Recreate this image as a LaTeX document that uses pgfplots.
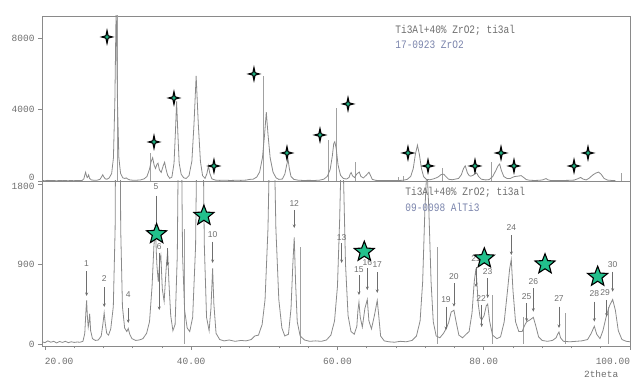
\documentclass[border=0pt]{standalone}
\usepackage{pgfplots}
\pgfplotsset{compat=1.18}
\usepackage{pgfplotstable}
\usetikzlibrary{arrows.meta}
\usepackage{fontspec}
\setmainfont{Liberation Sans}
\setmonofont{Liberation Mono}
\definecolor{ln}{HTML}{8A8A8A}
\definecolor{tx}{HTML}{6E6E6E}
\definecolor{hdrblue}{HTML}{7A84AC}
\definecolor{sg}{HTML}{22C08C}

\pgfdeclareplotmark{gstar}{%
\pgfpathmoveto{\pgfqpointpolar{90}{10.5pt}}%
\pgfpathlineto{\pgfqpointpolar{126}{4.5pt}}%
\pgfpathlineto{\pgfqpointpolar{162}{10.5pt}}%
\pgfpathlineto{\pgfqpointpolar{198}{4.5pt}}%
\pgfpathlineto{\pgfqpointpolar{234}{10.5pt}}%
\pgfpathlineto{\pgfqpointpolar{270}{4.5pt}}%
\pgfpathlineto{\pgfqpointpolar{306}{10.5pt}}%
\pgfpathlineto{\pgfqpointpolar{342}{4.5pt}}%
\pgfpathlineto{\pgfqpointpolar{18}{10.5pt}}%
\pgfpathlineto{\pgfqpointpolar{54}{4.5pt}}%
\pgfpathclose
\pgfusepathqfillstroke}
\pgfdeclareplotmark{spark}{%
\pgfpathmoveto{\pgfqpoint{0pt}{9pt}}%
\pgfpathlineto{\pgfqpoint{1.6pt}{1.6pt}}%
\pgfpathlineto{\pgfqpoint{7.5pt}{0pt}}%
\pgfpathlineto{\pgfqpoint{1.6pt}{-1.6pt}}%
\pgfpathlineto{\pgfqpoint{0pt}{-9pt}}%
\pgfpathlineto{\pgfqpoint{-1.6pt}{-1.6pt}}%
\pgfpathlineto{\pgfqpoint{-7.5pt}{0pt}}%
\pgfpathlineto{\pgfqpoint{-1.6pt}{1.6pt}}%
\pgfpathclose
\pgfusepathqfill}
\pgfdeclareplotmark{sparkc}{%
\pgfpathmoveto{\pgfqpoint{0pt}{2.6pt}}%
\pgfpathlineto{\pgfqpoint{0.7pt}{0.7pt}}%
\pgfpathlineto{\pgfqpoint{2.6pt}{0pt}}%
\pgfpathlineto{\pgfqpoint{0.7pt}{-0.7pt}}%
\pgfpathlineto{\pgfqpoint{0pt}{-2.6pt}}%
\pgfpathlineto{\pgfqpoint{-0.7pt}{-0.7pt}}%
\pgfpathlineto{\pgfqpoint{-2.6pt}{0pt}}%
\pgfpathlineto{\pgfqpoint{-0.7pt}{0.7pt}}%
\pgfpathclose
\pgfusepathqfill}

\pgfplotstableread{
x y
19.6 25
20.0 15
20.4 35
20.8 20
21.2 30
21.6 12
22.0 28
22.4 18
22.8 30
23.2 15
23.6 25
24.0 18
24.4 22
24.8 20
25.2 30
25.45 120
25.6 360
25.70 490
25.8 320
25.92 190
26.03 250
26.12 340
26.25 150
26.5 60
26.9 40
27.3 45
27.7 90
27.92 220
28.1 350
28.25 230
28.45 120
28.7 100
29.0 170
29.35 420
29.6 1300
29.8 4500
29.98 9800
30.16 4500
30.36 1300
30.6 420
30.9 180
31.2 140
31.39 175
31.6 110
31.9 60
32.4 40
32.9 45
33.4 60
33.9 120
34.3 250
34.65 650
34.9 1100
35.1 1300
35.3 900
35.5 700
35.72 950
35.85 1000
36.05 620
36.3 480
36.58 850
36.78 1050
36.95 700
37.2 320
37.5 150
37.8 220
38.1 1000
38.3 2800
38.46 4450
38.62 2800
38.82 1000
39.1 380
39.45 180
39.8 140
40.2 300
40.6 1100
40.9 3200
41.2 5880
41.5 3200
41.8 1100
42.1 300
42.45 150
42.7 400
42.93 850
43.1 450
43.4 120
43.9 50
44.5 35
45.2 45
46.0 30
46.8 40
47.5 35
48.2 50
48.7 90
49.2 100
49.7 220
50.1 500
50.5 1300
50.8 2600
51.04 3850
51.28 2600
51.58 1300
51.98 500
52.4 180
52.8 90
53.3 110
53.65 400
53.9 900
54.09 1200
54.27 700
54.5 250
54.9 90
55.5 45
56.2 30
57.0 35
57.8 30
58.5 45
59.1 100
59.6 260
60.0 650
60.3 1400
60.5 2100
60.65 2200
60.85 1800
61.1 900
61.45 320
61.85 140
62.3 110
62.65 200
62.8 380
62.94 470
63.12 300
63.4 190
63.75 400
64.08 500
64.3 260
64.65 170
65.05 320
65.44 490
65.62 340
65.9 90
66.4 35
67.0 25
67.8 20
68.6 30
69.4 25
70.2 40
70.8 90
71.3 260
71.65 700
71.95 1500
72.24 2000
72.5 1500
72.8 700
73.1 250
73.5 90
74.0 70
74.5 120
74.84 170
75.2 240
75.55 360
75.93 380
76.2 260
76.6 100
77.1 70
77.6 110
78.0 140
78.4 350
78.7 700
78.94 850
79.25 450
79.5 300
79.72 270
80.05 320
80.35 430
80.54 450
80.8 260
81.2 100
81.8 60
82.3 80
82.8 250
83.25 600
83.55 850
83.77 950
84.0 600
84.35 250
84.8 140
85.25 140
85.6 210
85.87 250
86.3 270
86.78 300
87.1 210
87.5 80
88.0 40
88.7 30
89.4 40
89.9 70
90.1 110
90.29 135
90.5 70
90.9 30
91.8 25
92.6 30
93.4 35
94.2 50
94.7 120
95.12 200
95.45 110
95.9 60
96.3 150
96.81 330
97.2 430
97.63 500
98.0 380
98.4 150
98.9 50
99.5 30
100.0 25
}\prof

\pgfplotstableread{
x y lab
25.70 900 1
28.11 742 2
31.39 551 4
35.18 1770 5
35.63 1095 6
42.93 1226 10
54.09 1586 12
60.57 1196 13
62.94 832 15
64.08 911 16
65.44 889 17
74.84 495 19
75.93 757 20
78.94 967 21
79.65 517 22
80.54 813 23
83.77 1313 24
85.87 532 25
86.78 701 26
90.29 506 27
95.12 570 28
96.61 574 29
97.63 897 30
}\labs

\pgfplotstableread{
x y v
25.70 821 -281
28.11 641 -225
31.39 405 -169
35.18 1670 -365
35.63 1024 -642
36.78 1080 -200
42.93 1151 -240
54.09 1507 -202
60.57 1136 -225
62.94 776 -225
64.08 855 -248
65.44 810 -236
74.84 420 -263
75.93 686 -266
78.94 866 -225
79.72 439 -248
80.54 742 -225
83.77 1226 -225
85.87 461 -210
86.78 630 -267
90.29 420 -240
95.12 476 -225
96.81 495 -188
97.63 813 -225
}\arrs

\pgfplotsset{
 panel/.style={scale only axis, width=588pt, height=165pt, anchor=south west,
  axis line style={ln, line width=0.9pt},
  tick style={ln, line width=0.6pt}, tick align=outside,
  major tick length=4pt, minor tick length=2.5pt,
  ticklabel style={font=\ttfamily\fontsize{9.5}{10}\selectfont, text=tx},
  /pgf/number format/assume math mode=true,
  /pgf/number format/1000 sep={},
  ytick pos=left, clip=true},
}
\tikzset{headtext/.style={anchor=west, font=\ttfamily\fontsize{9.5}{10}\selectfont, yscale=1.2}}

\begin{document}
\begin{tikzpicture}
\useasboundingbox (0,0) rectangle (633pt,379pt);
% top panel
\begin{axis}[panel, at={(42pt,198pt)},
  xmin=19.58, xmax=102.05, ymin=0, ymax=9230,
  xtick=\empty, ytick={4000,8000},
  extra y ticks={0},
  extra y tick style={yticklabel style={yshift=4pt}}]
\addplot[ycomb, ln!80, line width=0.5pt, mark=none] coordinates {
 (30.1,9500) (34.83,1560) (50.58,5900) (59.69,2290) (60.91,4080) (63.48,1060)
 (69.51,250) (70.21,300) (75.78,730) (82.65,1060) (100.89,450)};
\addplot[ln, line width=0.8pt, mark=none] table[x=x,y=y] {\prof};
\addplot[only marks, mark=spark, mark options={fill=black, draw=none}] coordinates {
 (28.70,8056) (35.29,2182) (38.09,4643) (43.70,839) (49.31,5986) (53.94,1566)
 (58.57,2573) (62.50,4308) (70.91,1566) (73.72,839) (80.31,839) (83.96,1566)
 (85.78,839) (94.20,839) (96.16,1566)};
\addplot[only marks, mark=sparkc, mark options={fill=sg, draw=none}] coordinates {
 (28.70,8056) (35.29,2182) (38.09,4643) (43.70,839) (49.31,5986) (53.94,1566)
 (58.57,2573) (62.50,4308) (70.91,1566) (73.72,839) (80.31,839) (83.96,1566)
 (85.78,839) (94.20,839) (96.16,1566)};
\node[headtext, text=tx] at (axis description cs:0.595,0.915) {Ti3Al+40\% ZrO2; ti3al};
\node[headtext, text=hdrblue] at (axis description cs:0.595,0.824) {17-0923  ZrO2};
\end{axis}
% bottom panel
\begin{axis}[panel, at={(42pt,33pt)},
  xmin=19.6, xmax=100, ymin=-22.5, ymax=1834,
  xtick={20,40,60,80,100},
  xticklabels={\makebox[0pt][l]{20.00},40.00,60.00,80.00,\makebox[0pt][r]{100.00}},
  minor x tick num=4, xtick pos=bottom,
  xticklabel style={yshift=-5pt},
  ytick={0,900},
  extra y ticks={1800},
  extra y tick style={yticklabel style={yshift=-2.5pt}},
  xlabel={2theta},
  xlabel style={at={(axis description cs:0.951,0)}, anchor=center, yshift=-28pt,
    font=\ttfamily\fontsize{9.5}{10}\selectfont, text=tx}]
\addplot[ycomb, ln!80, line width=0.5pt, mark=none] coordinates {
 (39.01,1290) (54.87,1090) (73.61,1090) (81.22,550) (85.37,300) (91.11,350) (96.98,420)};
\addplot[ln, line width=0.8pt, mark=none] table[x=x,y=y] {\prof};
\addplot[tx, line width=0.6pt, -{Stealth[length=3.5pt,width=3pt]},
  quiver={u=0, v=\thisrow{v}}] table[x=x,y=y] {\arrs};
\addplot[draw=none, mark=none, nodes near coords, point meta=explicit symbolic,
  nodes near coords style={anchor=center, font=\fontsize{8.5}{9}\selectfont, text=tx}]
  table[x=x,y=y,meta=lab] {\labs};
\addplot[only marks, mark=gstar, mark options={fill=sg, draw=black, line width=1.1pt}] coordinates {
 (35.27,1237) (41.74,1443) (63.67,1038) (80.08,964) (88.38,897) (95.58,757)};
\node[headtext, text=tx] at (axis description cs:0.612,0.933) {Ti3Al+40\% ZrO2; ti3al};
\node[headtext, text=hdrblue] at (axis description cs:0.612,0.842) {09-0098  AlTi3};
\end{axis}
\end{tikzpicture}
\end{document}
